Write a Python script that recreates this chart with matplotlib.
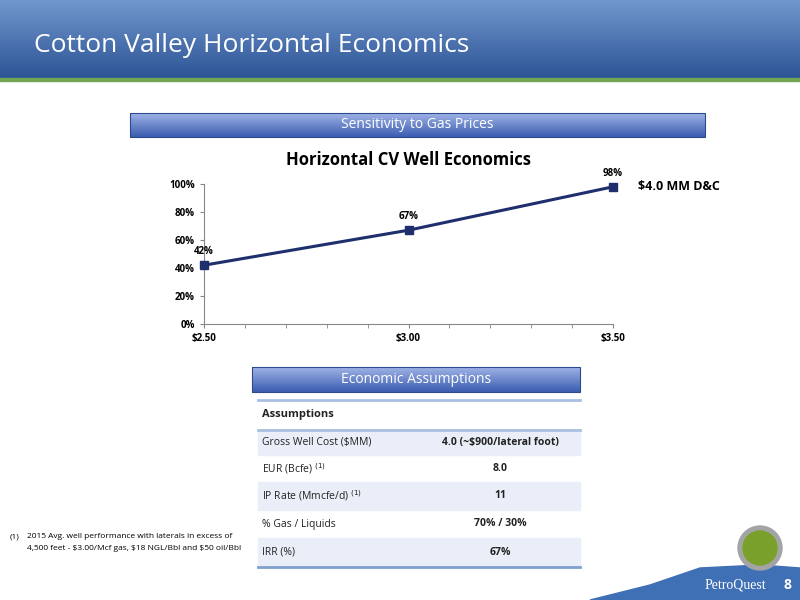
import matplotlib
matplotlib.use("Agg")
import matplotlib.pyplot as plt
import numpy as np
from matplotlib.patches import Rectangle, Polygon, Circle
from matplotlib.colors import LinearSegmentedColormap

prices = [2.50, 3.00, 3.50]
irr = [42, 67, 98]
price_labels = ["$2.50", "$3.00", "$3.50"]
y_ticks = [0, 20, 40, 60, 80, 100]
row_labels = ["Gross Well Cost ($MM)", "EUR (Bcfe) $^{(1)}$", "IP Rate (Mmcfe/d) $^{(1)}$", "% Gas / Liquids", "IRR (%)"]
row_values = ["4.0 (~$900/lateral foot)", "8.0", "11", "70% / 30%", "67%"]

plt.rcParams['font.family'] = ['Open Sans', 'DejaVu Sans']
W, H = 800, 600
fig = plt.figure(figsize=(8, 6), dpi=100)
bg = fig.add_axes([0, 0, 1, 1])
bg.set_xlim(0, W); bg.set_ylim(H, 0); bg.axis('off')

grad = np.linspace(0, 1, 100).reshape(-1, 1)
cm = LinearSegmentedColormap.from_list('h', ['#7198cc', '#2d5496'])
bg.imshow(grad, extent=[0, W, 78, 0], cmap=cm, aspect='auto', zorder=0)
bg.add_patch(Rectangle((0, 78), W, 3, color='#6fa553', zorder=1))
bg.text(34, 45, "Cotton Valley Horizontal Economics", color='white', fontsize=19, va='center', zorder=2)

def banner(x0, x1, y0, y1, text):
    cm2 = LinearSegmentedColormap.from_list('b', ['#9fb3e6', '#3b5db0'])
    bg.imshow(grad, extent=[x0, x1, y1, y0], cmap=cm2, aspect='auto', zorder=1)
    bg.add_patch(Rectangle((x0, y0), x1 - x0, y1 - y0, fill=False, ec='#2c4a8c', lw=0.8, zorder=2))
    bg.text((x0 + x1) / 2, (y0 + y1) / 2, text, color='white', fontsize=10, ha='center', va='center', zorder=3)

banner(130, 705, 113, 137, "Sensitivity to Gas Prices")
banner(252, 580, 367, 392, "Economic Assumptions")

bounds = [430, 455, 482, 510, 538, 567]
bg.plot([258, 580], [400, 400], color='#a9c0e0', lw=2)
bg.plot([258, 580], [430, 430], color='#a9c0e0', lw=2)
bg.text(262, 415, "Assumptions", fontsize=8, fontweight='bold', va='center', color='#222222')
for i in range(5):
    if i % 2 == 0:
        bg.add_patch(Rectangle((258, bounds[i]), 322, bounds[i+1] - bounds[i], color='#e9eef8', zorder=0.5))
    yc = (bounds[i] + bounds[i+1]) / 2
    bg.text(262, yc, row_labels[i], fontsize=7.5, va='center', color='#222222')
    bg.text(500, yc, row_values[i], fontsize=7.5, va='center', ha='center', fontweight='bold', color='#222222')
bg.plot([258, 580], [567, 567], color='#7fa0d0', lw=2)

bg.text(10, 537, "(1)", fontsize=6, va='center')
bg.text(27, 537, "2015 Avg. well performance with laterals in excess of", fontsize=6, va='center')
bg.text(27, 549, "4,500 feet - $3.00/Mcf gas, $18 NGL/Bbl and $50 oil/Bbl", fontsize=6, va='center')

bg.add_patch(Polygon([[590, 600], [650, 585], [700, 568], [760, 565], [800, 568], [800, 600]], color='#3f6fb5', zorder=1))
bg.add_patch(Circle((760, 548), 22, color='#a4a4a4', zorder=1))
bg.add_patch(Circle((760, 548), 17, color='#7aa02c', zorder=1.1))
bg.text(735, 585, "PetroQuest", color='white', fontsize=10, family='Liberation Serif', ha='center', va='center', zorder=2)
bg.text(787, 585, "8", color='white', fontsize=10, fontweight='bold', ha='center', va='center', zorder=2)

ax = fig.add_axes([204 / W, 1 - 324 / H, 409 / W, 140 / H])
ax.plot(prices, irr, color='#1f2f6e', lw=2.2, marker='s', ms=6, mfc='#1f2f6e', clip_on=False, zorder=5)
ax.set_xlim(2.5, 3.5); ax.set_ylim(0, 100)
ax.set_yticks(y_ticks); ax.set_yticklabels([f"{v}%" for v in y_ticks], fontsize=7, fontweight='bold')
ax.set_xticks(prices); ax.set_xticklabels(price_labels, fontsize=7, fontweight='bold')
ax.set_xticks(np.arange(2.5, 3.51, 0.1), minor=True)
for s in ['top', 'right']:
    ax.spines[s].set_visible(False)
for s in ['left', 'bottom']:
    ax.spines[s].set_color('#888888')
ax.tick_params(length=3, color='#888888')
ax.tick_params(which='minor', length=3, color='#888888')
for x, y in zip(prices, irr):
    ax.annotate(f"{y}%", (x, y), xytext=(0, 8), textcoords='offset points', ha='center', fontsize=7, fontweight='bold')
ax.set_title("Horizontal CV Well Economics", fontsize=12, fontweight='bold', pad=14)
ax.text(1.06, 0.98, "$4.0 MM D&C", transform=ax.transAxes, fontsize=9, fontweight='bold', va='center')

fig.savefig("out.png", dpi=100)
